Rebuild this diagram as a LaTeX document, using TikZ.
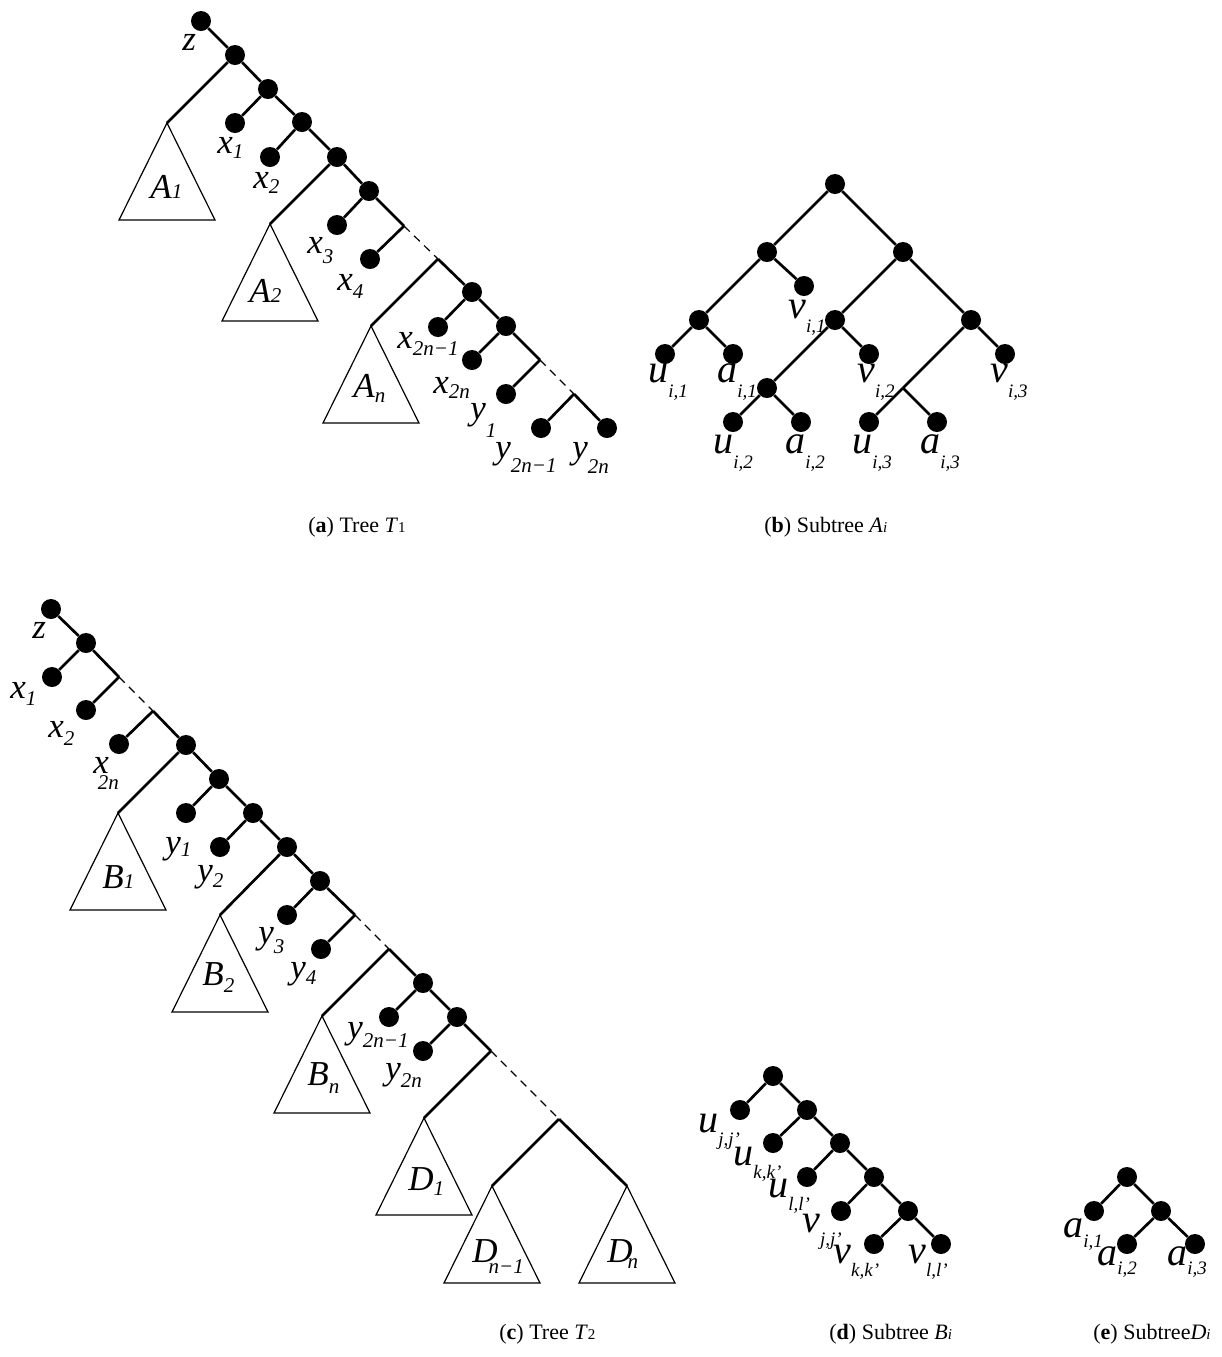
\documentclass[tikz,border=0pt]{standalone}
\usepackage{fontspec}
\setmainfont{Liberation Serif}
\newcommand{\lbT}[4]{\textit{#1}\kern#4\raisebox{-#3}{\fontsize{10.5}{11}\selectfont\textit{#2}}}
\newcommand{\lbS}[4]{\textit{#1}\kern#4\raisebox{-#3}{\fontsize{9.5}{10}\selectfont\textit{#2}}}
\newcommand{\capsub}[1]{{\fontsize{7.5}{8}\selectfont #1}}
\tikzset{
  tdot/.style={circle,fill=black,inner sep=0pt,minimum size=10pt},
  tedge/.style={line width=1.35pt},
  tri/.style={line width=0.6pt,line join=miter},
  dsh/.style={line width=0.6pt,dash pattern=on 4pt off 3pt},
  tlab/.style={anchor=base west,inner sep=0pt,font=\fontsize{17.5}{18}\selectfont},
  slab/.style={anchor=base west,inner sep=0pt,font=\fontsize{20}{20}\selectfont},
  captxt/.style={anchor=base west,inner sep=0pt,font=\fontsize{11}{12}\selectfont},
  stri/.pic={\draw[tri] (0,0) -- (-48,97) -- (48,97) -- cycle;}
}
\begin{document}
\begin{tikzpicture}[x=0.5pt,y=-0.5pt]
\useasboundingbox (0,0) rectangle (1222,1357);

% ---------------- (a) Tree T1 ----------------
\node[tdot] (a-r) at (201,21) {};
\node[tdot] (a-n1) at (235,55) {};
\node[tdot] (a-n2) at (268,89) {};
\node[tdot] (a-x1) at (235,123) {};
\node[tdot] (a-n3) at (302,122) {};
\node[tdot] (a-x2) at (270,157) {};
\node[tdot] (a-n4) at (337,157) {};
\node[tdot] (a-n5) at (369,191) {};
\node[tdot] (a-x3) at (337,225) {};
\coordinate (a-j1) at (404,226);
\node[tdot] (a-x4) at (370,259) {};
\coordinate (a-j2) at (438,259);
\node[tdot] (a-n6) at (472,292) {};
\node[tdot] (a-xa) at (438,327) {};
\node[tdot] (a-n7) at (506,326) {};
\node[tdot] (a-xb) at (472,360) {};
\coordinate (a-j3) at (540,360);
\node[tdot] (a-y1) at (506,394) {};
\coordinate (a-j4) at (574,394);
\node[tdot] (a-yc) at (541,428) {};
\node[tdot] (a-yd) at (607,428) {};
\coordinate (a-A1) at (167,123);
\coordinate (a-A2) at (270,224);
\coordinate (a-An) at (371,326);
\pic at (a-A1) {stri};
\pic at (a-A2) {stri};
\pic at (a-An) {stri};
\draw[tedge] (a-r) -- (a-n1);
\draw[tedge] (a-n1) -- (a-A1);
\draw[tedge] (a-n1) -- (a-n2);
\draw[tedge] (a-n2) -- (a-x1);
\draw[tedge] (a-n2) -- (a-n3);
\draw[tedge] (a-n3) -- (a-x2);
\draw[tedge] (a-n3) -- (a-n4);
\draw[tedge] (a-n4) -- (a-A2);
\draw[tedge] (a-n4) -- (a-n5);
\draw[tedge] (a-n5) -- (a-x3);
\draw[tedge] (a-n5) -- (a-j1);
\draw[tedge] (a-j1) -- (a-x4);
\draw[dsh] (a-j1) -- (a-j2);
\draw[tedge] (a-j2) -- (a-An);
\draw[tedge] (a-j2) -- (a-n6);
\draw[tedge] (a-n6) -- (a-xa);
\draw[tedge] (a-n6) -- (a-n7);
\draw[tedge] (a-n7) -- (a-xb);
\draw[tedge] (a-n7) -- (a-j3);
\draw[tedge] (a-j3) -- (a-y1);
\draw[dsh] (a-j3) -- (a-j4);
\draw[tedge] (a-j4) -- (a-yc);
\draw[tedge] (a-j4) -- (a-yd);
\node[tlab] (a-lz) at (182,50) {\textit{z}};
\node[tlab] (a-lx1) at (217,153) {\lbT{x}{1}{2.5pt}{0pt}};
\node[tlab] (a-lx2) at (253,188) {\lbT{x}{2}{2.5pt}{0pt}};
\node[tlab] (a-lx3) at (307,253) {\lbT{x}{3}{5pt}{0pt}};
\node[tlab] (a-lx4) at (337,290) {\lbT{x}{4}{4pt}{0pt}};
\node[tlab] (a-lxa) at (397,348) {\lbT{x}{2n−1}{3.5pt}{0pt}};
\node[tlab] (a-lxb) at (433,393) {\lbT{x}{2n}{2.5pt}{0pt}};
\node[tlab] (a-ly1) at (470,419) {\lbT{y}{1}{9pt}{0pt}};
\node[tlab] (a-lyc) at (495,458) {\lbT{y}{2n−1}{7pt}{0pt}};
\node[tlab] (a-lyd) at (572,458) {\lbT{y}{2n}{7.5pt}{0pt}};
\node[tlab] (a-lA1) at (150,198) {\lbT{A}{1}{0pt}{0pt}};
\node[tlab] (a-lA2) at (249,302) {\lbT{A}{2}{0pt}{0pt}};
\node[tlab] (a-lAn) at (353,397) {\lbT{A}{n}{2.5pt}{0pt}};
\node[captxt] (a-cap) at (308,532) {(\textbf{a}) Tree \textit{T}\capsub{1}};

% ---------------- (b) Subtree A_i ----------------
\node[tdot] (b-r) at (835,184) {};
\node[tdot] (b-L) at (767,252) {};
\node[tdot] (b-R) at (903,252) {};
\node[tdot] (b-LL) at (699,320) {};
\node[tdot] (b-v1) at (804,286) {};
\node[tdot] (b-RL) at (835,320) {};
\node[tdot] (b-RR) at (971,320) {};
\node[tdot] (b-u1) at (665,354) {};
\node[tdot] (b-a1) at (733,354) {};
\node[tdot] (b-RLL) at (767,388) {};
\node[tdot] (b-v2) at (869,354) {};
\node[tdot] (b-v3) at (1005,354) {};
\coordinate (b-jR) at (903,388);
\node[tdot] (b-u2) at (733,422) {};
\node[tdot] (b-a2) at (801,422) {};
\node[tdot] (b-u3) at (869,422) {};
\node[tdot] (b-a3) at (937,422) {};
\draw[tedge] (b-r) -- (b-L);
\draw[tedge] (b-r) -- (b-R);
\draw[tedge] (b-L) -- (b-LL);
\draw[tedge] (b-L) -- (b-v1);
\draw[tedge] (b-LL) -- (b-u1);
\draw[tedge] (b-LL) -- (b-a1);
\draw[tedge] (b-R) -- (b-RL);
\draw[tedge] (b-R) -- (b-RR);
\draw[tedge] (b-RL) -- (b-RLL);
\draw[tedge] (b-RL) -- (b-v2);
\draw[tedge] (b-RLL) -- (b-u2);
\draw[tedge] (b-RLL) -- (b-a2);
\draw[tedge] (b-RR) -- (b-v3);
\draw[tedge] (b-RR) -- (b-jR);
\draw[tedge] (b-jR) -- (b-u3);
\draw[tedge] (b-jR) -- (b-a3);
\node[slab] (b-lu1) at (648,382) {\lbS{u}{i,1}{7.5pt}{0pt}};
\node[slab] (b-la1) at (717,382) {\lbS{a}{i,1}{7.5pt}{0pt}};
\node[slab] (b-lv1) at (788,318) {\lbS{v}{i,1}{7pt}{0pt}};
\node[slab] (b-lv2) at (857,382) {\lbS{v}{i,2}{7.5pt}{0pt}};
\node[slab] (b-lv3) at (990,382) {\lbS{v}{i,3}{7.5pt}{0pt}};
\node[slab] (b-lu2) at (713,453) {\lbS{u}{i,2}{7.5pt}{0pt}};
\node[slab] (b-la2) at (785,453) {\lbS{a}{i,2}{7.5pt}{0pt}};
\node[slab] (b-lu3) at (852,453) {\lbS{u}{i,3}{7.5pt}{0pt}};
\node[slab] (b-la3) at (920,453) {\lbS{a}{i,3}{7.5pt}{0pt}};
\node[captxt] (b-cap) at (764,532) {(\textbf{b}) Subtree \textit{A}\capsub{\textit{i}}};

% ---------------- (c) Tree T2 ----------------
\node[tdot] (c-r) at (51,609) {};
\node[tdot] (c-m1) at (86,643) {};
\node[tdot] (c-x1) at (52,677) {};
\coordinate (c-k1) at (119,677);
\node[tdot] (c-x2) at (86,710) {};
\coordinate (c-k2) at (153,711);
\node[tdot] (c-xn) at (119,744) {};
\node[tdot] (c-m2) at (186,745) {};
\node[tdot] (c-m3) at (219,779) {};
\node[tdot] (c-y1) at (186,813) {};
\node[tdot] (c-m4) at (253,813) {};
\node[tdot] (c-y2) at (220,847) {};
\node[tdot] (c-m5) at (287,847) {};
\node[tdot] (c-m6) at (320,881) {};
\node[tdot] (c-y3) at (287,915) {};
\coordinate (c-k3) at (355,915);
\node[tdot] (c-y4) at (321,949) {};
\coordinate (c-k4) at (389,949);
\node[tdot] (c-m7) at (423,983) {};
\node[tdot] (c-yc) at (389,1017) {};
\node[tdot] (c-m8) at (457,1017) {};
\node[tdot] (c-yd) at (423,1051) {};
\coordinate (c-k5) at (491,1051);
\coordinate (c-k6) at (559,1119);
\coordinate (c-B1) at (118,813);
\coordinate (c-B2) at (220,915);
\coordinate (c-Bn) at (322,1016);
\coordinate (c-D1) at (424,1118);
\coordinate (c-Dm) at (492,1186);
\coordinate (c-Dn) at (627,1186);
\pic at (c-B1) {stri};
\pic at (c-B2) {stri};
\pic at (c-Bn) {stri};
\pic at (c-D1) {stri};
\pic at (c-Dm) {stri};
\pic at (c-Dn) {stri};
\draw[tedge] (c-r) -- (c-m1);
\draw[tedge] (c-m1) -- (c-x1);
\draw[tedge] (c-m1) -- (c-k1);
\draw[tedge] (c-k1) -- (c-x2);
\draw[dsh] (c-k1) -- (c-k2);
\draw[tedge] (c-k2) -- (c-xn);
\draw[tedge] (c-k2) -- (c-m2);
\draw[tedge] (c-m2) -- (c-B1);
\draw[tedge] (c-m2) -- (c-m3);
\draw[tedge] (c-m3) -- (c-y1);
\draw[tedge] (c-m3) -- (c-m4);
\draw[tedge] (c-m4) -- (c-y2);
\draw[tedge] (c-m4) -- (c-m5);
\draw[tedge] (c-m5) -- (c-B2);
\draw[tedge] (c-m5) -- (c-m6);
\draw[tedge] (c-m6) -- (c-y3);
\draw[tedge] (c-m6) -- (c-k3);
\draw[tedge] (c-k3) -- (c-y4);
\draw[dsh] (c-k3) -- (c-k4);
\draw[tedge] (c-k4) -- (c-Bn);
\draw[tedge] (c-k4) -- (c-m7);
\draw[tedge] (c-m7) -- (c-yc);
\draw[tedge] (c-m7) -- (c-m8);
\draw[tedge] (c-m8) -- (c-yd);
\draw[tedge] (c-m8) -- (c-k5);
\draw[tedge] (c-k5) -- (c-D1);
\draw[dsh] (c-k5) -- (c-k6);
\draw[tedge] (c-k6) -- (c-Dm);
\draw[tedge] (c-k6) -- (c-Dn);
\node[tlab] (c-lz) at (32,638) {\textit{z}};
\node[tlab] (c-lx1) at (10,698) {\lbT{x}{1}{3.5pt}{0pt}};
\node[tlab] (c-lx2) at (48,737) {\lbT{x}{2}{4pt}{0pt}};
\node[tlab] (c-lxn) at (93,773) {\lbT{x}{2n}{8pt}{-5.5pt}};
\node[tlab] (c-ly1) at (165,853) {\lbT{y}{1}{1.5pt}{0pt}};
\node[tlab] (c-ly2) at (197,881) {\lbT{y}{2}{3pt}{0pt}};
\node[tlab] (c-ly3) at (258,943) {\lbT{y}{3}{5pt}{0pt}};
\node[tlab] (c-ly4) at (290,978) {\lbT{y}{4}{3pt}{0pt}};
\node[tlab] (c-lyc) at (347,1038) {\lbT{y}{2n−1}{4.5pt}{0pt}};
\node[tlab] (c-lyd) at (385,1079) {\lbT{y}{2n}{4pt}{0pt}};
\node[tlab] (c-lB1) at (102,888) {\lbT{B}{1}{0pt}{0pt}};
\node[tlab] (c-lB2) at (202,985) {\lbT{B}{2}{3.5pt}{0pt}};
\node[tlab] (c-lBn) at (307,1085) {\lbT{B}{n}{4pt}{0pt}};
\node[tlab] (c-lD1) at (408,1190) {\lbT{D}{1}{2.5pt}{0pt}};
\node[tlab] (c-lDm) at (472,1262) {\lbT{D}{n−1}{5.5pt}{-4.5pt}};
\node[tlab] (c-lDn) at (607,1262) {\lbT{D}{n}{3pt}{-2.5pt}};
\node[captxt] (c-cap) at (499,1339) {(\textbf{c}) Tree \textit{T}\capsub{2}};

% ---------------- (d) Subtree B_i ----------------
\node[tdot] (d-r) at (773,1076) {};
\node[tdot] (d-uj) at (740,1110) {};
\node[tdot] (d-p1) at (807,1110) {};
\node[tdot] (d-uk) at (773,1143) {};
\node[tdot] (d-p2) at (840,1143) {};
\node[tdot] (d-ul) at (807,1177) {};
\node[tdot] (d-p3) at (874,1177) {};
\node[tdot] (d-vj) at (841,1211) {};
\node[tdot] (d-p4) at (908,1211) {};
\node[tdot] (d-vk) at (874,1244) {};
\node[tdot] (d-vl) at (941,1244) {};
\draw[tedge] (d-r) -- (d-uj);
\draw[tedge] (d-r) -- (d-p1);
\draw[tedge] (d-p1) -- (d-uk);
\draw[tedge] (d-p1) -- (d-p2);
\draw[tedge] (d-p2) -- (d-ul);
\draw[tedge] (d-p2) -- (d-p3);
\draw[tedge] (d-p3) -- (d-vj);
\draw[tedge] (d-p3) -- (d-p4);
\draw[tedge] (d-p4) -- (d-vk);
\draw[tedge] (d-p4) -- (d-vl);
\node[slab] (d-luj) at (698,1132) {\lbS{u}{j,j’}{6.5pt}{0pt}};
\node[slab] (d-luk) at (733,1165) {\lbS{u}{k,k’}{6.5pt}{0pt}};
\node[slab] (d-lul) at (768,1197) {\lbS{u}{l,l’}{6.5pt}{0pt}};
\node[slab] (d-lvj) at (802,1232) {\lbS{v}{j,j’}{6.5pt}{0pt}};
\node[slab] (d-lvk) at (833,1263) {\lbS{v}{k,k’}{6.5pt}{0pt}};
\node[slab] (d-lvl) at (908,1263) {\lbS{v}{l,l’}{6.5pt}{0pt}};
\node[captxt] (d-cap) at (829,1339) {(\textbf{d}) Subtree \textit{B}\capsub{\textit{i}}};

% ---------------- (e) Subtree D_i ----------------
\node[tdot] (e-r) at (1127,1177) {};
\node[tdot] (e-a1) at (1094,1211) {};
\node[tdot] (e-q1) at (1161,1211) {};
\node[tdot] (e-a2) at (1127,1244) {};
\node[tdot] (e-a3) at (1195,1244) {};
\draw[tedge] (e-r) -- (e-a1);
\draw[tedge] (e-r) -- (e-q1);
\draw[tedge] (e-q1) -- (e-a2);
\draw[tedge] (e-q1) -- (e-a3);
\node[slab] (e-la1) at (1063,1237) {\lbS{a}{i,1}{5pt}{0pt}};
\node[slab] (e-la2) at (1097,1265) {\lbS{a}{i,2}{4.5pt}{0pt}};
\node[slab] (e-la3) at (1167,1265) {\lbS{a}{i,3}{4.5pt}{0pt}};
\node[captxt] (e-cap) at (1093,1339) {(\textbf{e}) Subtree\textit{D}\capsub{\textit{i}}};
\end{tikzpicture}
\end{document}
